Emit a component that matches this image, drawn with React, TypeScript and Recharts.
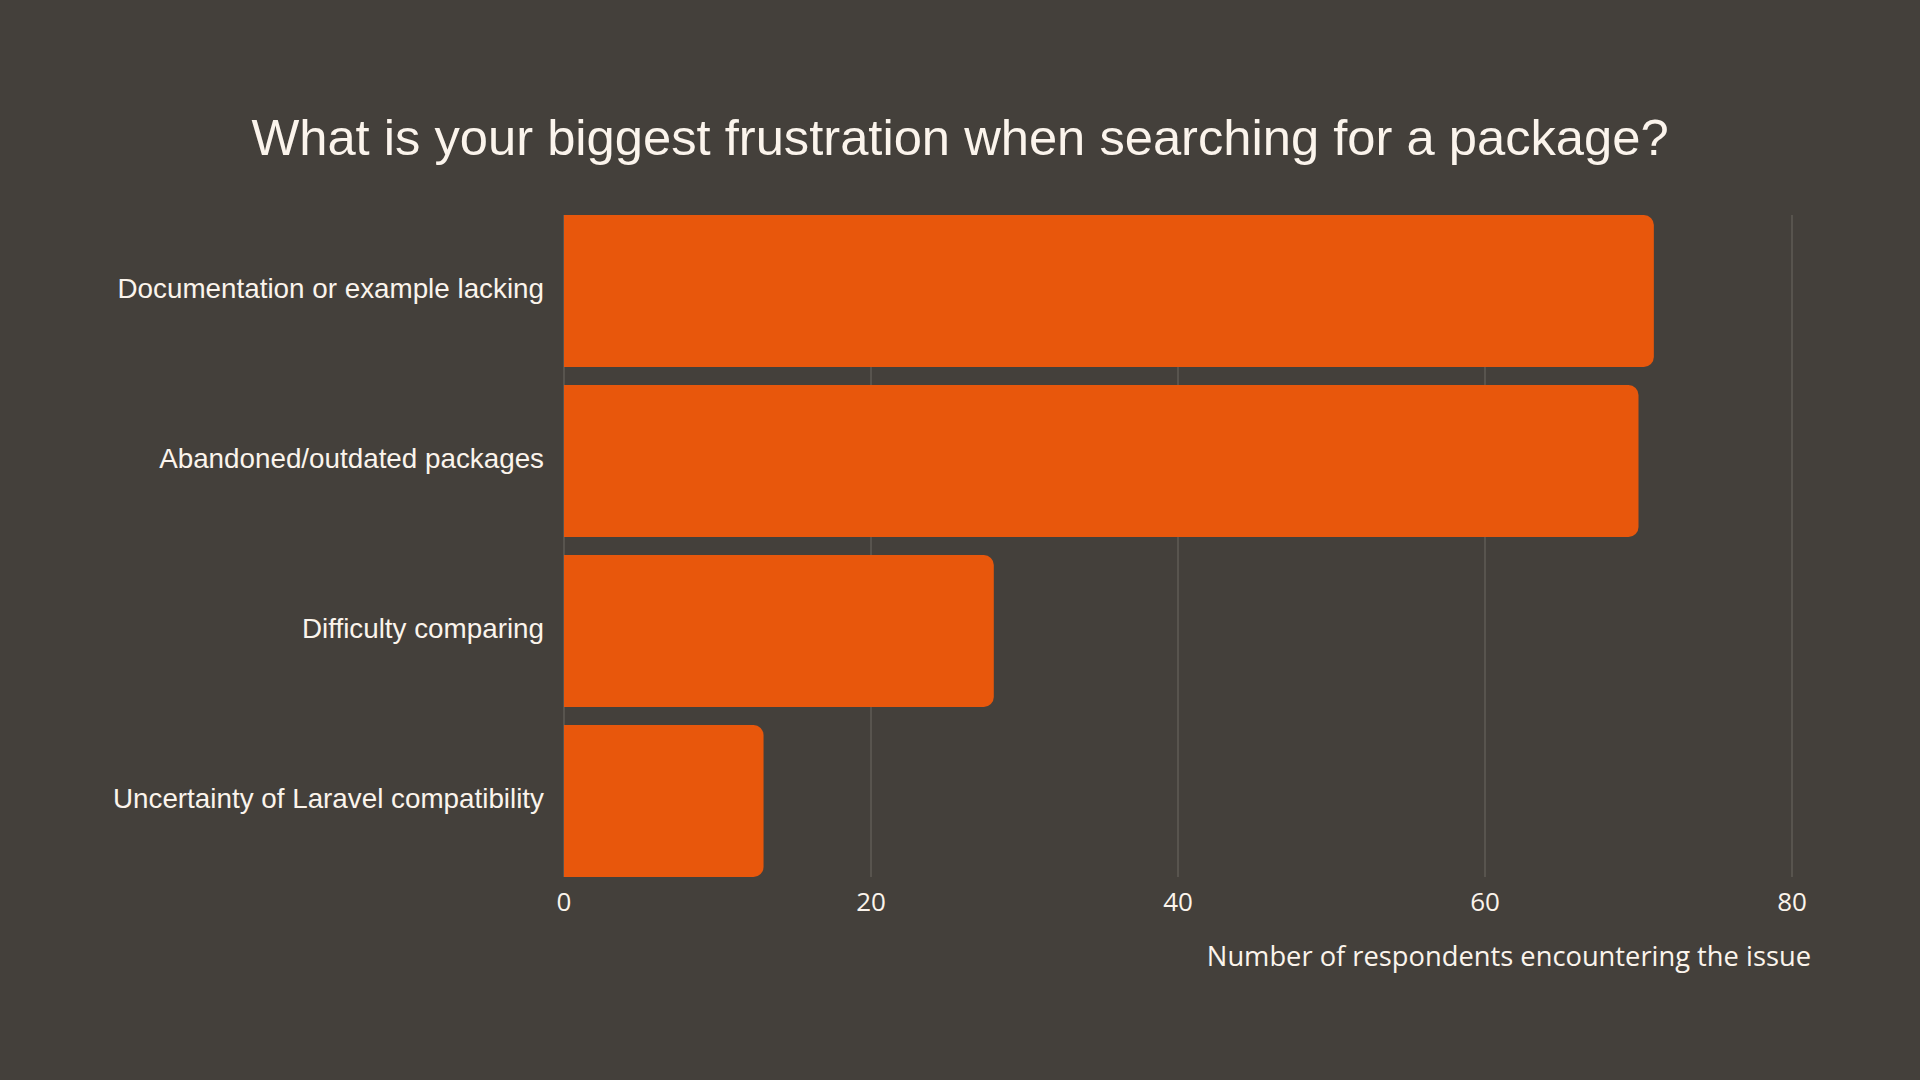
import { Bar, BarChart, CartesianGrid, XAxis, YAxis } from "recharts";

const categories = [
  "Documentation or example lacking",
  "Abandoned/outdated packages",
  "Difficulty comparing",
  "Uncertainty of Laravel compatibility",
];
const respondents = [71, 70, 28, 13];
const xTicks = [0, 20, 40, 60, 80];

const title = "What is your biggest frustration when searching for a package?";
const xLabel = "Number of respondents encountering the issue";

const data = categories.map((issue, i) => ({ issue, count: respondents[i] }));

const bg = "#44403b";
const cream = "#fbf4ec";

export default function App() {
  return (
    <div
      style={{
        position: "fixed",
        left: 0,
        top: 0,
        width: 1920,
        height: 1080,
        background: bg,
      }}
    >
      <svg
        width={1920}
        height={1080}
        style={{ position: "absolute", left: 0, top: 0, pointerEvents: "none" }}
      >
        <text
          x={960}
          y={155}
          textAnchor="middle"
          fill={cream}
          fontFamily="'Liberation Sans', Arial, sans-serif"
          fontSize={50.7}
        >
          {title}
        </text>
      </svg>
      <BarChart
        width={1920}
        height={1080}
        data={data}
        layout="vertical"
        margin={{ top: 215, right: 128, bottom: 0, left: 0 }}
        style={{ position: "absolute", left: 0, top: 0 }}
      >
        <CartesianGrid stroke="#5f5b56" strokeWidth={1.5} horizontal={false} />
        <XAxis
          type="number"
          domain={[0, 80]}
          ticks={xTicks}
          axisLine={false}
          tickLine={false}
          tickMargin={10}
          height={203}
          tick={{
            fill: cream,
            fontSize: 26,
            fontFamily: "'Open Sans', sans-serif",
          }}
          label={{
            content: ({ viewBox }: any) => (
              <text
                x={viewBox.x + viewBox.width + 19}
                y={viewBox.y + 89}
                textAnchor="end"
                fill={cream}
                fontSize={27.3}
                fontFamily="'Open Sans', sans-serif"
              >
                {xLabel}
              </text>
            ),
          }}
        />
        <YAxis
          type="category"
          dataKey="issue"
          width={564}
          axisLine={false}
          tickLine={false}
          tickMargin={14}
          padding={{ top: -9, bottom: -9 }}
          tick={{
            fill: cream,
            fontSize: 27.8,
            dy: -3,
            fontFamily: "'Liberation Sans', Arial, sans-serif",
          }}
        />
        <Bar
          dataKey="count"
          fill="#e8570c"
          barSize={152}
          radius={[0, 10, 10, 0]}
          isAnimationActive={false}
        />
      </BarChart>
    </div>
  );
}
